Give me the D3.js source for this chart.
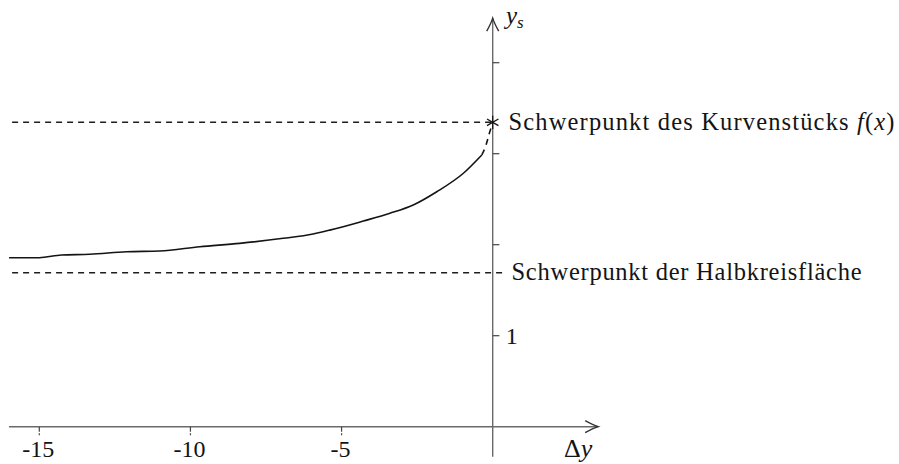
<!DOCTYPE html>
<html>
<head>
<meta charset="utf-8">
<script src="https://cdn.jsdelivr.net/npm/d3@7"></script>
<style>
  html, body { margin: 0; padding: 0; background: #fff; }
  svg { display: block; font-family: "Liberation Serif", "DejaVu Serif", serif; }
</style>
</head>
<body>
<svg id="chart" width="899" height="464"></svg>
<script>
// Centroid height y_s as a function of the shift Δy
const curveDy = [-16, -15, -14.27, -13.33, -12.12, -11.02, -9.69, -8.37, -6.93, -5.94, -5.39, -4.28, -3.40, -2.63, -1.85, -0.97, -0.36];
const curveYs = [1.857, 1.857, 1.887, 1.895, 1.923, 1.931, 1.978, 2.015, 2.070, 2.118, 2.160, 2.260, 2.345, 2.436, 2.582, 2.785, 2.986];

// Dashed continuation of the curve up to the limit point
const limitDy = [-0.36, -0.22, -0.11, 0];
const limitYs = [2.986, 3.096, 3.224, 3.345];

// Reference levels
const arcCentroid = 3.345;      // Schwerpunkt des Kurvenstücks
const areaCentroid = 1.692;     // Schwerpunkt der Halbkreisfläche

// Axis ticks
const xTicks = [-15, -10, -5];
const xTickLabels = ["-15", "-10", "-5"];
const yTicks = [1, 2, 3, 4];
const yTickLabels = ["1", "", "", ""];

const svg = d3.select("#chart");

const x = d3.scaleLinear().domain([-15, 0]).range([39.3, 492.7]);
const y = d3.scaleLinear().domain([0, 4]).range([426.7, 62.7]);

const axisColor = "#6a6a6a";
const ink = "#141414";

// ---- axes ----
const xMin = -16.0, xMax = 3.49;
const yMin = -0.33, yMax = 4.49;

svg.append("line")
  .attr("x1", x(xMin)).attr("x2", x(xMax))
  .attr("y1", y(0)).attr("y2", y(0))
  .attr("stroke", axisColor).attr("stroke-width", 1.4);

svg.append("line")
  .attr("x1", x(0)).attr("x2", x(0))
  .attr("y1", y(yMin)).attr("y2", y(yMax))
  .attr("stroke", axisColor).attr("stroke-width", 1.4);

// arrow heads
function arrowHead(tx, ty, dir) {
  const L = 13, W = 6;
  let p;
  if (dir === "right") {
    p = `M${tx - L},${ty - W} Q${tx - 5},${ty - 1.5} ${tx},${ty} Q${tx - 5},${ty + 1.5} ${tx - L},${ty + W}`;
  } else {
    p = `M${tx - W},${ty + L} Q${tx - 1.5},${ty + 5} ${tx},${ty} Q${tx + 1.5},${ty + 5} ${tx + W},${ty + L}`;
  }
  svg.append("path").attr("d", p)
    .attr("fill", "none").attr("stroke", "#333").attr("stroke-width", 1.4);
}
arrowHead(x(xMax), y(0), "right");
arrowHead(x(0), y(yMax), "up");

// x ticks + labels
const xt = svg.append("g");
xTicks.forEach((t, i) => {
  xt.append("line")
    .attr("x1", x(t)).attr("x2", x(t))
    .attr("y1", y(0)).attr("y2", y(0) + 8.5)
    .attr("stroke", "#444").attr("stroke-width", 1.2)
    .attr("stroke-dasharray", "5,1.6,2");
  xt.append("text")
    .attr("x", x(t) - 1).attr("y", 457.3)
    .attr("text-anchor", "middle")
    .attr("font-size", 24).attr("fill", ink)
    .text(xTickLabels[i]);
});

// y ticks + labels
const yt = svg.append("g");
yTicks.forEach((t, i) => {
  yt.append("line")
    .attr("x1", x(0)).attr("x2", x(0) + 6.7)
    .attr("y1", y(t)).attr("y2", y(t))
    .attr("stroke", "#444").attr("stroke-width", 1.2);
  if (yTickLabels[i]) {
    yt.append("text")
      .attr("x", x(0) + 13).attr("y", y(t) + 8.3)
      .attr("font-size", 24).attr("fill", ink)
      .text(yTickLabels[i]);
  }
});

// axis titles
const ysLabel = svg.append("text")
  .attr("x", 506).attr("y", 24)
  .attr("font-size", 25).attr("font-style", "italic").attr("fill", ink);
ysLabel.append("tspan").text("y");
ysLabel.append("tspan").attr("font-size", 17).attr("dy", 4).text("s");

const dyLabel = svg.append("text")
  .attr("x", 564).attr("y", 457)
  .attr("font-size", 26).attr("fill", ink);
dyLabel.append("tspan").text("Δ");
dyLabel.append("tspan").attr("font-style", "italic").text("y");

// ---- reference levels ----
svg.append("line")
  .attr("x1", x(-15.9)).attr("x2", x(0))
  .attr("y1", y(arcCentroid)).attr("y2", y(arcCentroid))
  .attr("stroke", "#1e1e1e").attr("stroke-width", 1.4)
  .attr("stroke-dasharray", "6,5");

svg.append("line")
  .attr("x1", x(-15.9)).attr("x2", x(0.34))
  .attr("y1", y(areaCentroid)).attr("y2", y(areaCentroid))
  .attr("stroke", "#1e1e1e").attr("stroke-width", 1.4)
  .attr("stroke-dasharray", "6,5");

// ---- curve ----
const line = d3.line().curve(d3.curveMonotoneX).x(d => x(d[0])).y(d => y(d[1]));

svg.append("path")
  .datum(d3.zip(curveDy, curveYs))
  .attr("d", line)
  .attr("fill", "none").attr("stroke", ink).attr("stroke-width", 1.6);

svg.append("path")
  .datum(d3.zip(limitDy, limitYs))
  .attr("d", line)
  .attr("fill", "none").attr("stroke", ink).attr("stroke-width", 1.6)
  .attr("stroke-dasharray", "6,5");

// asterisk marker at the limit point
const sx = x(0), sy = y(arcCentroid), r = 6.6;
[90, 30, 150].forEach(a => {
  const rad = a * Math.PI / 180;
  svg.append("line")
    .attr("x1", sx - r * Math.cos(rad)).attr("y1", sy + r * Math.sin(rad))
    .attr("x2", sx + r * Math.cos(rad)).attr("y2", sy - r * Math.sin(rad))
    .attr("stroke", ink).attr("stroke-width", 1.3);
});

// ---- annotations ----
const t1 = svg.append("text")
  .attr("x", 508.5).attr("y", y(arcCentroid) + 7.5)
  .attr("font-size", 24.5).attr("fill", ink)
  .attr("textLength", 386).attr("lengthAdjust", "spacing");
t1.append("tspan").text("Schwerpunkt des Kurvenstücks ");
t1.append("tspan").attr("font-style", "italic").text("f");
t1.append("tspan").text("(");
t1.append("tspan").attr("font-style", "italic").text("x");
t1.append("tspan").text(")");

svg.append("text")
  .attr("x", 511.5).attr("y", y(areaCentroid) + 7.2)
  .attr("font-size", 24.5).attr("fill", ink)
  .attr("textLength", 350).attr("lengthAdjust", "spacing")
  .text("Schwerpunkt der Halbkreisfläche");
</script>
</body>
</html>
